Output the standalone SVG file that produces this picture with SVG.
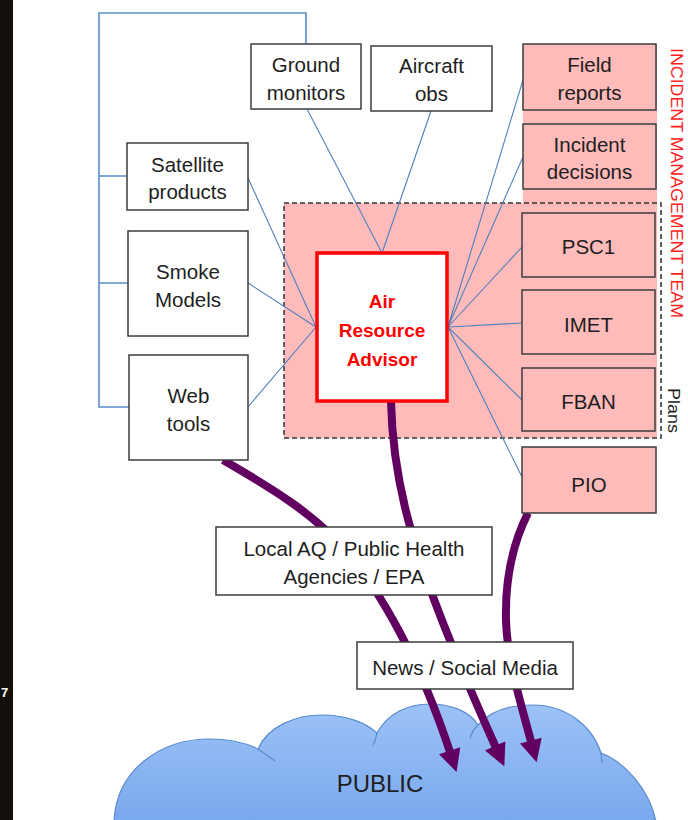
<svg xmlns="http://www.w3.org/2000/svg" width="688" height="820" viewBox="0 0 688 820">
<style>
.box{fill:#ffffff;stroke:#3d3d3d;stroke-width:1.5}
.pbox{fill:#ffbaba;stroke:#3d3d3d;stroke-width:1.5}
.t{font-family:"Liberation Sans",Arial,sans-serif;font-size:20.5px;fill:#1e1e1e;text-anchor:middle}
.ara{font-family:"Liberation Sans",Arial,sans-serif;font-size:19px;font-weight:bold;fill:#ff0000;text-anchor:middle}
.link{fill:none;stroke:#4f81bd;stroke-width:1.1}
.bracket{fill:none;stroke:#5b8ccb;stroke-width:1.6}
.flow{fill:none;stroke:#620062;stroke-width:8}
</style>
<defs>
<linearGradient id="cg" x1="0" y1="0" x2="0" y2="1">
<stop offset="0" stop-color="#9cc2f7"/>
<stop offset="1" stop-color="#7aa8ee"/>
</linearGradient>
<marker id="ah" markerUnits="strokeWidth" viewBox="0 0 10 10" refX="2" refY="5" markerWidth="3" markerHeight="2.8" orient="auto">
<path d="M0,0 L10,5 L0,10 Z" fill="#620062"/>
</marker>
</defs>

<rect x="0" y="0" width="13" height="820" fill="#120f0c"/>
<text x="1" y="697" font-family="Liberation Sans,Arial,sans-serif" font-size="13" font-weight="bold" fill="#ffffff">7</text>

<g id="public">
<path d="M114,822 C116,770 160,739 210,739 C232,739 248,744 258,749 C268,726 296,715 322,715 C345,715 365,722 377,733 C388,713 408,704 430,704 C452,704 470,712 478,725 C490,711 510,705 533,705 C565,705 592,725 601,753 C625,762 650,790 656,822 Z" fill="url(#cg)" stroke="#5a8bcd" stroke-width="1.2"/>
<path d="M258,749 L275,761 M377,733 Q376,740 373,745 M478,725 Q472,731 470,738 M601,753 L602,763" fill="none" stroke="#5a8bcd" stroke-width="1.2"/>
<text x="380" y="792" font-family="Liberation Sans,Arial,sans-serif" font-size="24" fill="#1e1e1e" text-anchor="middle">PUBLIC</text>
</g>

<g id="imt-background">
<rect x="523" y="45" width="134" height="160" fill="#ffbaba"/>
<rect x="284" y="203" width="373" height="235" fill="#ffbaba"/>
<rect x="284" y="203" width="377" height="235" fill="none" stroke="#333333" stroke-width="1.5" stroke-dasharray="5 3"/>
</g>

<g id="connectors">
<path class="bracket" d="M306,44 V13 H99 V407 H129 M99,176 H127 M99,283 H128"/>
<path class="link" d="M307,109 L382,253 M431,111 L382,253"/>
<path class="link" d="M248,178 L316,327 M248,283 L316,327 M248,407 L316,327"/>
<path class="link" d="M448,327 L523,80 M448,327 L523,157 M448,327 L522,247 M448,327 L522,323 M448,327 L522,400 M448,327 L522,477"/>
<path class="flow" marker-end="url(#ah)" d="M223,460 C275,490 315,515 345,550 C380,590 420,660 451,755"/>
<path class="flow" marker-end="url(#ah)" d="M391,401 C392,450 400,500 420,560 C440,620 470,690 497,750"/>
<path class="flow" marker-end="url(#ah)" d="M528,513 C512,545 505,580 506,620 C507,660 520,700 532,745"/>
</g>

<g id="ground-monitors"><rect class="box" x="251" y="44" width="110" height="65"/><text class="t" x="306" y="72">Ground</text><text class="t" x="306" y="100">monitors</text></g>
<g id="aircraft-obs"><rect class="box" x="371" y="46" width="121" height="65"/><text class="t" x="431.5" y="73">Aircraft</text><text class="t" x="431.5" y="101">obs</text></g>
<g id="satellite-products"><rect class="box" x="127" y="143" width="121" height="67"/><text class="t" x="187.5" y="172">Satellite</text><text class="t" x="187.5" y="199">products</text></g>
<g id="smoke-models"><rect class="box" x="128" y="231" width="120" height="105"/><text class="t" x="188" y="279">Smoke</text><text class="t" x="188" y="307">Models</text></g>
<g id="web-tools"><rect class="box" x="129" y="355" width="119" height="105"/><text class="t" x="188.5" y="403">Web</text><text class="t" x="188.5" y="431">tools</text></g>

<g id="air-resource-advisor"><rect x="317" y="253" width="130" height="148" fill="#ffffff" stroke="#ff0000" stroke-width="3.5"/><text class="ara" x="382" y="308">Air</text><text class="ara" x="382" y="337">Resource</text><text class="ara" x="382" y="366">Advisor</text></g>

<g id="field-reports"><rect class="pbox" x="523" y="44" width="133" height="66"/><text class="t" x="589.5" y="72">Field</text><text class="t" x="589.5" y="100">reports</text></g>
<g id="incident-decisions"><rect class="pbox" x="523" y="124" width="133" height="65"/><text class="t" x="589.5" y="152">Incident</text><text class="t" x="589.5" y="179">decisions</text></g>
<g id="psc1"><rect class="pbox" x="522" y="213" width="133" height="64"/><text class="t" x="588.5" y="254">PSC1</text></g>
<g id="imet"><rect class="pbox" x="522" y="290" width="133" height="64"/><text class="t" x="588.5" y="332">IMET</text></g>
<g id="fban"><rect class="pbox" x="522" y="368" width="133" height="63"/><text class="t" x="588.5" y="409">FBAN</text></g>
<g id="pio"><rect class="pbox" x="522" y="447" width="134" height="66"/><text class="t" x="589" y="492">PIO</text></g>

<g id="local-aq"><rect class="box" x="216" y="527" width="276" height="68"/><text class="t" x="354" y="556">Local AQ / Public Health</text><text class="t" x="354" y="584">Agencies / EPA</text></g>
<g id="news"><rect class="box" x="357" y="642" width="216" height="47"/><text class="t" x="465" y="675">News / Social Media</text></g>

<g id="labels">
<text transform="translate(671,48) rotate(90)" font-family="Liberation Sans,Arial,sans-serif" font-size="17" fill="#ff2020" textLength="270" lengthAdjust="spacingAndGlyphs">INCIDENT MANAGEMENT TEAM</text>
<text transform="translate(668,388) rotate(90)" font-family="Liberation Sans,Arial,sans-serif" font-size="17" fill="#1e1e1e" textLength="45" lengthAdjust="spacingAndGlyphs">Plans</text>
</g>
</svg>
